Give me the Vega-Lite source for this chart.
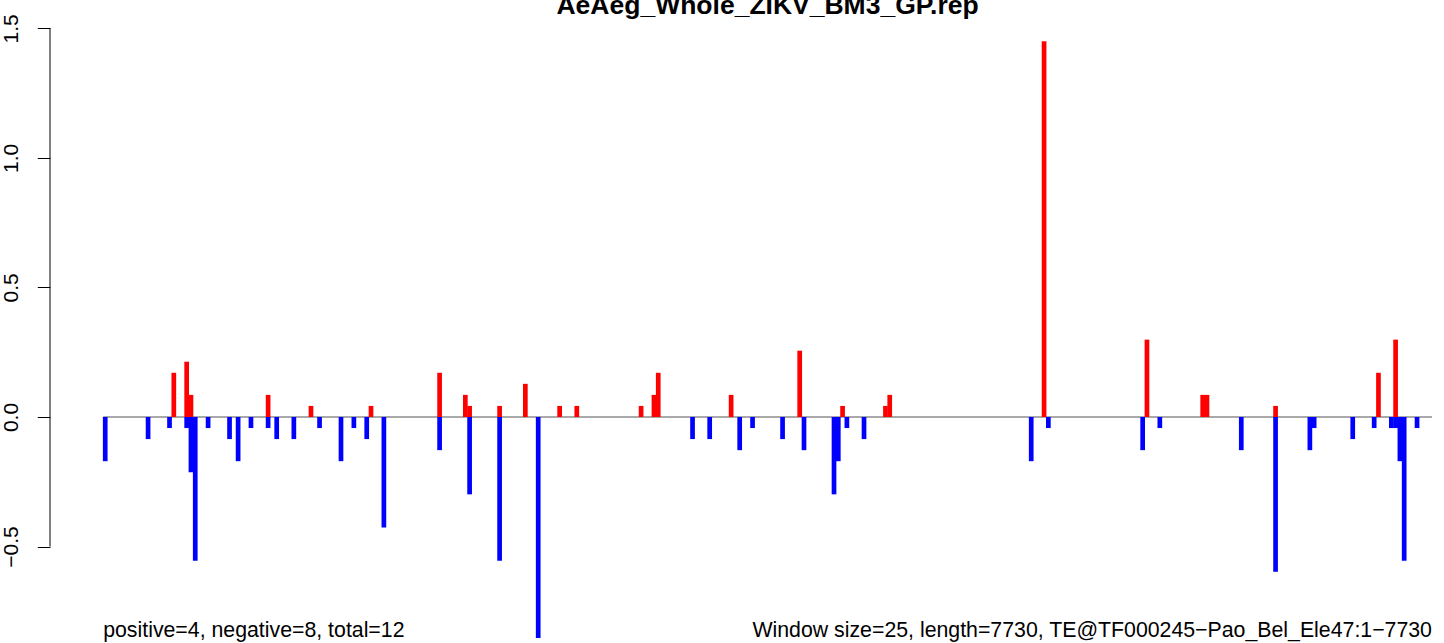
{
  "$schema": "https://vega.github.io/schema/vega-lite/v6.json",
  "width": 1394,
  "height": 643,
  "autosize": {"type": "none"},
  "padding": {"left": 50, "top": 0, "right": 0, "bottom": 0},
  "background": "white",
  "config": {"view": {"stroke": null}, "font": "Liberation Sans"},
  "datasets": {
    "bars": [
      {"pos": 413, "value": 0.1706, "strand": "positive"},
      {"pos": 488, "value": 0.2133, "strand": "positive"},
      {"pos": 513, "value": 0.0853, "strand": "positive"},
      {"pos": 963, "value": 0.0853, "strand": "positive"},
      {"pos": 1213, "value": 0.0427, "strand": "positive"},
      {"pos": 1563, "value": 0.0427, "strand": "positive"},
      {"pos": 1963, "value": 0.1706, "strand": "positive"},
      {"pos": 2113, "value": 0.0853, "strand": "positive"},
      {"pos": 2138, "value": 0.0427, "strand": "positive"},
      {"pos": 2313, "value": 0.0427, "strand": "positive"},
      {"pos": 2463, "value": 0.128, "strand": "positive"},
      {"pos": 2663, "value": 0.0427, "strand": "positive"},
      {"pos": 2763, "value": 0.0427, "strand": "positive"},
      {"pos": 3138, "value": 0.0427, "strand": "positive"},
      {"pos": 3213, "value": 0.0853, "strand": "positive"},
      {"pos": 3238, "value": 0.1706, "strand": "positive"},
      {"pos": 3663, "value": 0.0853, "strand": "positive"},
      {"pos": 4063, "value": 0.2559, "strand": "positive"},
      {"pos": 4313, "value": 0.0427, "strand": "positive"},
      {"pos": 4563, "value": 0.0427, "strand": "positive"},
      {"pos": 4588, "value": 0.0853, "strand": "positive"},
      {"pos": 5488, "value": 1.4501, "strand": "positive"},
      {"pos": 6088, "value": 0.2986, "strand": "positive"},
      {"pos": 6413, "value": 0.0853, "strand": "positive"},
      {"pos": 6438, "value": 0.0853, "strand": "positive"},
      {"pos": 6838, "value": 0.0427, "strand": "positive"},
      {"pos": 7438, "value": 0.1706, "strand": "positive"},
      {"pos": 7538, "value": 0.2986, "strand": "positive"},
      {"pos": 13, "value": -0.1706, "strand": "negative"},
      {"pos": 263, "value": -0.0853, "strand": "negative"},
      {"pos": 388, "value": -0.0427, "strand": "negative"},
      {"pos": 488, "value": -0.0427, "strand": "negative"},
      {"pos": 513, "value": -0.2133, "strand": "negative"},
      {"pos": 538, "value": -0.5545, "strand": "negative"},
      {"pos": 613, "value": -0.0427, "strand": "negative"},
      {"pos": 738, "value": -0.0853, "strand": "negative"},
      {"pos": 788, "value": -0.1706, "strand": "negative"},
      {"pos": 863, "value": -0.0427, "strand": "negative"},
      {"pos": 963, "value": -0.0427, "strand": "negative"},
      {"pos": 1013, "value": -0.0853, "strand": "negative"},
      {"pos": 1113, "value": -0.0853, "strand": "negative"},
      {"pos": 1263, "value": -0.0427, "strand": "negative"},
      {"pos": 1388, "value": -0.1706, "strand": "negative"},
      {"pos": 1463, "value": -0.0427, "strand": "negative"},
      {"pos": 1538, "value": -0.0853, "strand": "negative"},
      {"pos": 1638, "value": -0.4265, "strand": "negative"},
      {"pos": 1963, "value": -0.128, "strand": "negative"},
      {"pos": 2138, "value": -0.2986, "strand": "negative"},
      {"pos": 2313, "value": -0.5545, "strand": "negative"},
      {"pos": 2538, "value": -0.853, "strand": "negative"},
      {"pos": 3438, "value": -0.0853, "strand": "negative"},
      {"pos": 3538, "value": -0.0853, "strand": "negative"},
      {"pos": 3713, "value": -0.128, "strand": "negative"},
      {"pos": 3788, "value": -0.0427, "strand": "negative"},
      {"pos": 3963, "value": -0.0853, "strand": "negative"},
      {"pos": 4088, "value": -0.128, "strand": "negative"},
      {"pos": 4263, "value": -0.2986, "strand": "negative"},
      {"pos": 4288, "value": -0.1706, "strand": "negative"},
      {"pos": 4338, "value": -0.0427, "strand": "negative"},
      {"pos": 4438, "value": -0.0853, "strand": "negative"},
      {"pos": 5413, "value": -0.1706, "strand": "negative"},
      {"pos": 5513, "value": -0.0427, "strand": "negative"},
      {"pos": 6063, "value": -0.128, "strand": "negative"},
      {"pos": 6163, "value": -0.0427, "strand": "negative"},
      {"pos": 6638, "value": -0.128, "strand": "negative"},
      {"pos": 6838, "value": -0.5971, "strand": "negative"},
      {"pos": 7038, "value": -0.128, "strand": "negative"},
      {"pos": 7063, "value": -0.0427, "strand": "negative"},
      {"pos": 7288, "value": -0.0853, "strand": "negative"},
      {"pos": 7413, "value": -0.0427, "strand": "negative"},
      {"pos": 7513, "value": -0.0427, "strand": "negative"},
      {"pos": 7538, "value": -0.0427, "strand": "negative"},
      {"pos": 7563, "value": -0.1706, "strand": "negative"},
      {"pos": 7588, "value": -0.5545, "strand": "negative"},
      {"pos": 7663, "value": -0.0427, "strand": "negative"}
    ],
    "baseline": [{"start": 1, "end": 7750}],
    "one": [{}]
  },
  "layer": [
    {
      "data": {"name": "baseline"},
      "mark": {"type": "rule", "color": "#8c8c8c", "strokeWidth": 1.5},
      "encoding": {
        "x": {"field": "start", "type": "quantitative", "scale": {"domain": [-309, 7820.2], "nice": false, "zero": false}, "axis": null},
        "x2": {"field": "end"},
        "y": {"datum": 0, "type": "quantitative", "scale": {"domain": [-0.8723, 1.6094], "nice": false, "zero": false},
          "axis": {
            "values": [-0.5, 0, 0.5, 1, 1.5], "format": ".1f", "domain": false, "grid": false, "title": null,
            "ticks": true, "tickSize": 12.7, "tickColor": "black", "tickWidth": 1,
            "labelAngle": -90, "labelAlign": "center", "labelBaseline": "alphabetic", "labelPadding": 20,
            "labelFontSize": 21, "labelFont": "Liberation Sans", "labelColor": "black"
          }
        }
      }
    },
    {
      "data": {"name": "bars"},
      "mark": {"type": "rule", "strokeWidth": 4.7, "strokeCap": "butt"},
      "encoding": {
        "x": {"field": "pos", "type": "quantitative", "scale": {"domain": [-309, 7820.2], "nice": false, "zero": false}, "axis": null},
        "y": {"field": "value", "type": "quantitative", "scale": {"domain": [-0.8723, 1.6094], "nice": false, "zero": false}},
        "y2": {"datum": 0},
        "color": {"field": "strand", "type": "nominal", "scale": {"domain": ["positive", "negative"], "range": ["#FF0000", "#0000FF"]}, "legend": null}
      }
    },
    {
      "data": {"name": "one"},
      "mark": {"type": "rule", "color": "black", "strokeWidth": 1},
      "encoding": {
        "x": {"datum": -309, "type": "quantitative"},
        "y": {"datum": -0.5, "type": "quantitative"},
        "y2": {"datum": 1.5}
      }
    },
    {
      "data": {"name": "one"},
      "mark": {"type": "text", "text": "AeAeg_Whole_ZIKV_BM3_GP.rep", "font": "Liberation Sans", "fontWeight": "bold", "fontSize": 26.5, "align": "center", "baseline": "alphabetic", "color": "black"},
      "encoding": {
        "x": {"datum": 3875.5, "type": "quantitative"},
        "y": {"datum": 1.5554, "type": "quantitative"}
      }
    },
    {
      "data": {"name": "one"},
      "mark": {"type": "text", "text": "positive=4, negative=8, total=12", "font": "Liberation Sans", "fontSize": 21.3, "align": "left", "baseline": "alphabetic", "color": "black"},
      "encoding": {
        "x": {"datum": 1, "type": "quantitative"},
        "y": {"datum": -0.849, "type": "quantitative"}
      }
    },
    {
      "data": {"name": "one"},
      "mark": {"type": "text", "text": "Window size=25, length=7730, TE@TF000245−Pao_Bel_Ele47:1−7730", "font": "Liberation Sans", "fontSize": 21.3, "align": "right", "baseline": "alphabetic", "color": "black"},
      "encoding": {
        "x": {"datum": 7750, "type": "quantitative"},
        "y": {"datum": -0.849, "type": "quantitative"}
      }
    }
  ]
}
